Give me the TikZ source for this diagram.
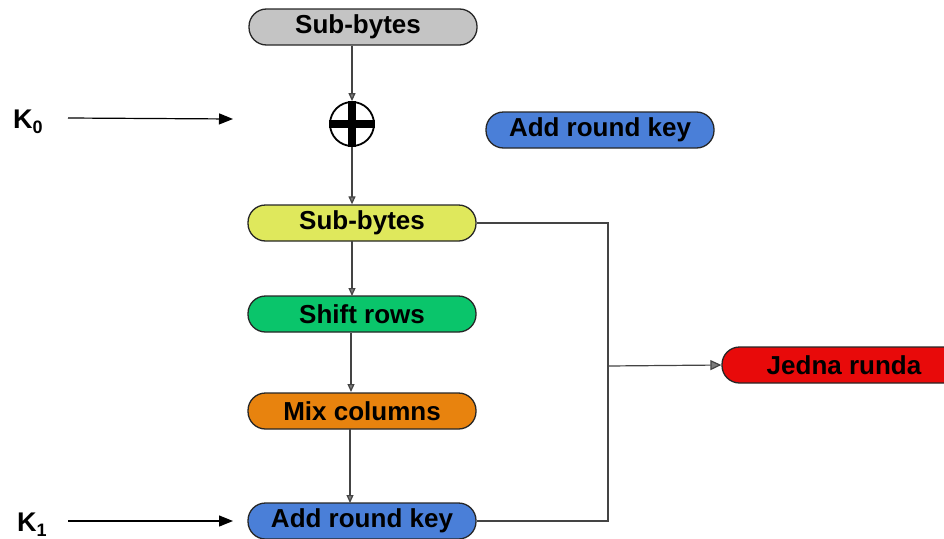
\documentclass[tikz,border=0pt]{standalone}
\usepackage{fontspec}
\setmainfont{Liberation Sans}
\usetikzlibrary{arrows.meta}
\definecolor{cgray}{HTML}{C4C4C4}
\definecolor{cyellow}{HTML}{DFE85C}
\definecolor{cgreen}{HTML}{0AC56B}
\definecolor{corange}{HTML}{E8830E}
\definecolor{cblue}{HTML}{4A7FD8}
\definecolor{cred}{HTML}{E80A0A}
\definecolor{cline}{HTML}{444444}
\tikzset{
  box/.style={draw=black!85, line width=1.3pt, rounded corners=17.5pt, minimum width=228pt, minimum height=36pt, inner sep=0pt, font=\fontsize{26}{26}\bfseries\selectfont},
  conn/.style={draw=cline, line width=1.2pt},
  smallarrow/.style={conn, -{Triangle[width=7pt,length=8pt,fill=cline!70]}},
  karrow/.style={draw=black, line width=1.2pt, -{Triangle[width=11pt,length=14pt]}},
  klabel/.style={inner sep=0pt, font=\fontsize{27}{27}\bfseries\selectfont}
}
\begin{document}
\begin{tikzpicture}[x=1pt,y=-1pt]
\useasboundingbox (0,0) rectangle (944,538);
% nodes
\node[box, fill=cgray] (sb0) at (363,27) {\hspace*{-10pt}Sub-bytes};
\node[circle, draw=black, line width=1.8pt, minimum size=44pt, inner sep=0pt, fill=white] (xor) at (352,124) {};
\draw[black, line width=8pt] (xor.north) -- (xor.south);
\draw[black, line width=8pt] (xor.west) -- (xor.east);
\node[box, fill=cblue] (ark0) at (600,130) {Add round key};
\node[box, fill=cyellow] (sb1) at (362,223) {Sub-bytes};
\node[box, fill=cgreen] (sr) at (362,314) {Shift rows};
\node[box, fill=corange] (mc) at (362,411) {Mix columns};
\node[box, fill=cblue] (ark1) at (362,521) {Add round key};
\node[box, fill=cred, minimum width=244pt] (jr) at (844,365) {Jedna runda};
\node[klabel] (k0) at (28,122) {K\raisebox{-0.35ex}{\fontsize{18}{18}\bfseries\selectfont 0}};
\node[klabel] (k1) at (32,525) {K\raisebox{-0.35ex}{\fontsize{18}{18}\bfseries\selectfont 1}};
% free ends
\coordinate (k0s) at (68,118);
\coordinate (k0e) at (233,119);
\coordinate (k1s) at (68,521);
\coordinate (k1e) at (233,521);
\coordinate (bus) at (608,366);
% connectors
\draw[smallarrow] (sb0.south -| xor.north) -- (xor.north);
\draw[smallarrow] (xor.south) -- (sb1.north -| xor.south);
\draw[smallarrow] (352,241) -- (352,296);
\draw[smallarrow] (351,333) -- (351,392);
\draw[smallarrow] (350,429) -- (350,503);
\draw[karrow] (k0s) -- (k0e);
\draw[karrow] (k1s) -- (k1e);
\draw[conn] (sb1.east) -- (sb1.east -| bus) -- (ark1.east -| bus) -- (ark1.east);
\draw[smallarrow, -{Triangle[width=10pt,length=11pt,fill=cline!70]}] (bus) -- (jr.west);
\end{tikzpicture}
\end{document}
